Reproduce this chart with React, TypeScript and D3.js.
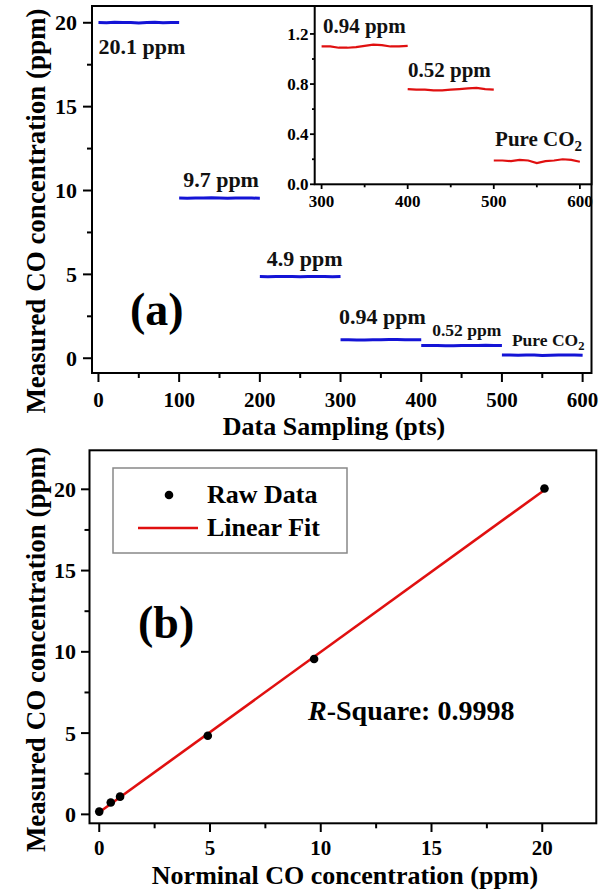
import React from 'react';
import * as d3 from 'd3';

// ---------- Data (panel a): six sampling segments, 100 pts each, values every 10 pts ----------
const segmentStarts = [0, 100, 200, 300, 400, 500];
const segmentStep = 10;
const seg20ppm = [20.02, 20.0, 20.03, 20.01, 20.02, 19.99, 20.02, 20.03, 20.0, 20.02, 20.01];
const seg9ppm = [9.55, 9.54, 9.56, 9.55, 9.57, 9.55, 9.54, 9.56, 9.55, 9.55, 9.54];
const seg4ppm = [4.87, 4.86, 4.87, 4.88, 4.87, 4.86, 4.87, 4.88, 4.87, 4.86, 4.87];
const seg094ppm = [1.10, 1.10, 1.09, 1.09, 1.095, 1.105, 1.115, 1.11, 1.10, 1.10, 1.105];
const seg052ppm = [0.76, 0.755, 0.755, 0.75, 0.75, 0.755, 0.76, 0.765, 0.77, 0.76, 0.755];
const segPureCO2 = [0.19, 0.19, 0.185, 0.195, 0.19, 0.17, 0.185, 0.19, 0.2, 0.195, 0.18];
const segments = [seg20ppm, seg9ppm, seg4ppm, seg094ppm, seg052ppm, segPureCO2];
const segmentLabels = ['20.1 ppm', '9.7 ppm', '4.9 ppm', '0.94 ppm', '0.52 ppm', 'Pure CO'];

// tick values
const aXTicks = [0, 100, 200, 300, 400, 500, 600];
const aXMinor = [50, 150, 250, 350, 450, 550];
const aYTicks = [0, 5, 10, 15, 20];
const aYMinor = [2.5, 7.5, 12.5, 17.5];
const insetXTicks = [300, 400, 500, 600];
const insetXMinor = [350, 450, 550];
const insetYTicks = [0, 0.4, 0.8, 1.2];
const insetYMinor = [0.2, 0.6, 1.0];

// ---------- Data (panel b) ----------
const nominal = [0, 0.52, 0.94, 4.9, 9.7, 20.1];
const measured = [0.17, 0.73, 1.09, 4.84, 9.56, 20.05];
const bXTicks = [0, 5, 10, 15, 20];
const bXMinor = [2.5, 7.5, 12.5, 17.5];
const bYTicks = [0, 5, 10, 15, 20];
const bYMinor = [2.5, 7.5, 12.5, 17.5];

const FONT = "'Liberation Serif', 'Times New Roman', serif";
const BLUE = '#1414d6';
const RED = '#e01010';

function segPoints(i: number) {
  return segments[i].map((v, k) => [segmentStarts[i] + k * segmentStep, v] as [number, number]);
}

export default function App() {
  const W = 599, H = 890;

  // panel a
  const xA = d3.scaleLinear().domain([-8, 611]).range([92, 591.5]);
  const yA = d3.scaleLinear().domain([-0.88, 21.0]).range([373, 6]);
  // inset
  const xI = d3.scaleLinear().domain([292, 613.5]).range([314.7, 591.5]);
  const yI = d3.scaleLinear().domain([0, 1.423]).range([184.3, 6]);
  // panel b
  const xB = d3.scaleLinear().domain([-0.44, 22.44]).range([89.5, 596.3]);
  const yB = d3.scaleLinear().domain([-0.55, 22.4]).range([823.3, 450.3]);

  const lineA = d3.line<[number, number]>().x(d => xA(d[0])).y(d => yA(d[1]));
  const lineI = d3.line<[number, number]>().x(d => xI(d[0])).y(d => yI(d[1]));

  // linear least-squares fit
  const mx = d3.mean(nominal)!, my = d3.mean(measured)!;
  const slope = d3.sum(nominal.map((x, i) => (x - mx) * (measured[i] - my))) / d3.sum(nominal.map(x => (x - mx) ** 2));
  const intercept = my - slope * mx;
  const fitX = [d3.min(nominal)!, d3.max(nominal)!];

  const tickFont = { fontFamily: FONT, fontWeight: 700 as const };

  // annotation offsets (px) relative to each segment start / level
  const aOff = [
    { dx: 0, dy: 31, size: 22 },
    { dx: 4, dy: -11, size: 22 },
    { dx: 7, dy: -10.5, size: 22 },
    { dx: -1.5, dy: -16, size: 22 },
    { dx: 11, dy: -9.6, size: 17.5 },
    { dx: 10, dy: -9.4, size: 17.5 },
  ];
  const iOff = [
    { dx: 1.3, dy: -13.7 },
    { dx: 0.3, dy: -12.6 },
    { dx: 1.3, dy: -14.7 },
  ];

  return (
    <svg width={W} height={H} style={{ position: 'absolute', left: 0, top: 0, background: '#fff' }}>
      <rect x={0} y={0} width={W} height={H} fill="#fff" />
      {/* ================= Panel a ================= */}
      {segments.map((_, i) => (
        <path key={'sa' + i} d={lineA(segPoints(i))!} fill="none" stroke={BLUE} strokeWidth={3} />
      ))}
      {segmentLabels.map((t, i) => {
        const o = aOff[i];
        const lvl = d3.mean(segments[i])!;
        return (
          <text key={'la' + i} x={xA(segmentStarts[i]) + o.dx} y={yA(lvl) + o.dy}
            fontSize={o.size} {...tickFont} fill="#111">
            {t}
            {i === 5 && <tspan fontSize={o.size * 0.72} dy={4}>2</tspan>}
          </text>
        );
      })}
      {aXTicks.map(t => (
        <g key={'axt' + t}>
          <line x1={xA(t)} x2={xA(t)} y1={373} y2={382} stroke="#000" strokeWidth={2} />
          <text x={xA(t)} y={407} textAnchor="middle" fontSize={21} {...tickFont}>{t}</text>
        </g>
      ))}
      {aXMinor.map(t => (
        <line key={'axm' + t} x1={xA(t)} x2={xA(t)} y1={373} y2={378} stroke="#000" strokeWidth={2} />
      ))}
      {aYTicks.map(t => (
        <g key={'ayt' + t}>
          <line x1={83} x2={92} y1={yA(t)} y2={yA(t)} stroke="#000" strokeWidth={2} />
          <text x={77} y={yA(t)} dy="0.34em" textAnchor="end" fontSize={22} {...tickFont}>{t}</text>
        </g>
      ))}
      {aYMinor.map(t => (
        <line key={'aym' + t} x1={87} x2={92} y1={yA(t)} y2={yA(t)} stroke="#000" strokeWidth={2} />
      ))}
      <rect x={92} y={6} width={499.5} height={367} fill="none" stroke="#000" strokeWidth={2} />
      <text x={130} y={325} fontSize={46} {...tickFont}>(a)</text>
      <text x={334} y={435} textAnchor="middle" fontSize={26} {...tickFont}>Data Sampling (pts)</text>
      <text transform={`translate(45,211) rotate(-90)`} textAnchor="middle" fontSize={27} {...tickFont}>
        Measured CO concentration (ppm)
      </text>

      {/* ================= Inset ================= */}
      <rect x={314.7} y={6} width={276.8} height={178.3} fill="#fff" />
      {[3, 4, 5].map(i => (
        <path key={'si' + i} d={lineI(segPoints(i))!} fill="none" stroke={RED} strokeWidth={2.2} />
      ))}
      {[3, 4, 5].map((i, k) => {
        const o = iOff[k];
        const lvl = d3.mean(segments[i])!;
        return (
          <text key={'li' + i} x={xI(segmentStarts[i]) + o.dx} y={yI(lvl) + o.dy}
            fontSize={21} {...tickFont} fill="#111">
            {segmentLabels[i]}
            {i === 5 && <tspan fontSize={15} dy={5}>2</tspan>}
          </text>
        );
      })}
      {insetXTicks.map(t => (
        <g key={'ixt' + t}>
          <line x1={xI(t)} x2={xI(t)} y1={184.3} y2={189} stroke="#000" strokeWidth={1.8} />
          <text x={xI(t)} y={207} textAnchor="middle" fontSize={17} {...tickFont}>{t}</text>
        </g>
      ))}
      {insetXMinor.map(t => (
        <line key={'ixm' + t} x1={xI(t)} x2={xI(t)} y1={184.3} y2={187.3} stroke="#000" strokeWidth={1.8} />
      ))}
      {insetYTicks.map(t => (
        <g key={'iyt' + t}>
          <line x1={310} x2={314.7} y1={yI(t)} y2={yI(t)} stroke="#000" strokeWidth={1.8} />
          <text x={308.5} y={yI(t)} dy="0.34em" textAnchor="end" fontSize={17} {...tickFont}>{t.toFixed(1)}</text>
        </g>
      ))}
      {insetYMinor.map(t => (
        <line key={'iym' + t} x1={312} x2={314.7} y1={yI(t)} y2={yI(t)} stroke="#000" strokeWidth={1.8} />
      ))}
      <rect x={314.7} y={6} width={276.8} height={178.3} fill="none" stroke="#000" strokeWidth={2} />

      {/* ================= Panel b ================= */}
      <line x1={xB(fitX[0])} y1={yB(intercept + slope * fitX[0])} x2={xB(fitX[1])} y2={yB(intercept + slope * fitX[1])}
        stroke={RED} strokeWidth={2.6} />
      {nominal.map((x, i) => (
        <circle key={'pb' + i} cx={xB(x)} cy={yB(measured[i])} r={4.3} fill="#000" />
      ))}
      {bXTicks.map(t => (
        <g key={'bxt' + t}>
          <line x1={xB(t)} x2={xB(t)} y1={823.3} y2={832} stroke="#000" strokeWidth={2} />
          <text x={xB(t)} y={855} textAnchor="middle" fontSize={21} {...tickFont}>{t}</text>
        </g>
      ))}
      {bXMinor.map(t => (
        <line key={'bxm' + t} x1={xB(t)} x2={xB(t)} y1={823.3} y2={828.3} stroke="#000" strokeWidth={2} />
      ))}
      {bYTicks.map(t => (
        <g key={'byt' + t}>
          <line x1={81} x2={89.5} y1={yB(t)} y2={yB(t)} stroke="#000" strokeWidth={2} />
          <text x={76} y={yB(t)} dy="0.34em" textAnchor="end" fontSize={22} {...tickFont}>{t}</text>
        </g>
      ))}
      {bYMinor.map(t => (
        <line key={'bym' + t} x1={84.5} x2={89.5} y1={yB(t)} y2={yB(t)} stroke="#000" strokeWidth={2} />
      ))}
      <rect x={89.5} y={450.3} width={506.8} height={373} fill="none" stroke="#000" strokeWidth={2} />

      {/* legend */}
      <rect x={113} y={468} width={234} height={85} fill="#fff" stroke="#888" strokeWidth={1.5} />
      <circle cx={169} cy={495} r={4.3} fill="#000" />
      <text x={207} y={503} fontSize={26} {...tickFont}>Raw Data</text>
      <line x1={138} x2={198} y1={528} y2={528} stroke={RED} strokeWidth={2.6} />
      <text x={207} y={536} fontSize={26} {...tickFont}>Linear Fit</text>

      <text x={138} y={638} fontSize={46} {...tickFont}>(b)</text>
      <text x={308} y={720} fontSize={28} {...tickFont}>
        <tspan fontStyle="italic">R</tspan>-Square: 0.9998
      </text>
      <text x={345} y={884} textAnchor="middle" fontSize={26} {...tickFont}>Norminal CO concentration (ppm)</text>
      <text transform={`translate(45,649.5) rotate(-90)`} textAnchor="middle" fontSize={27} {...tickFont}>
        Measured CO concentration (ppm)
      </text>
    </svg>
  );
}
